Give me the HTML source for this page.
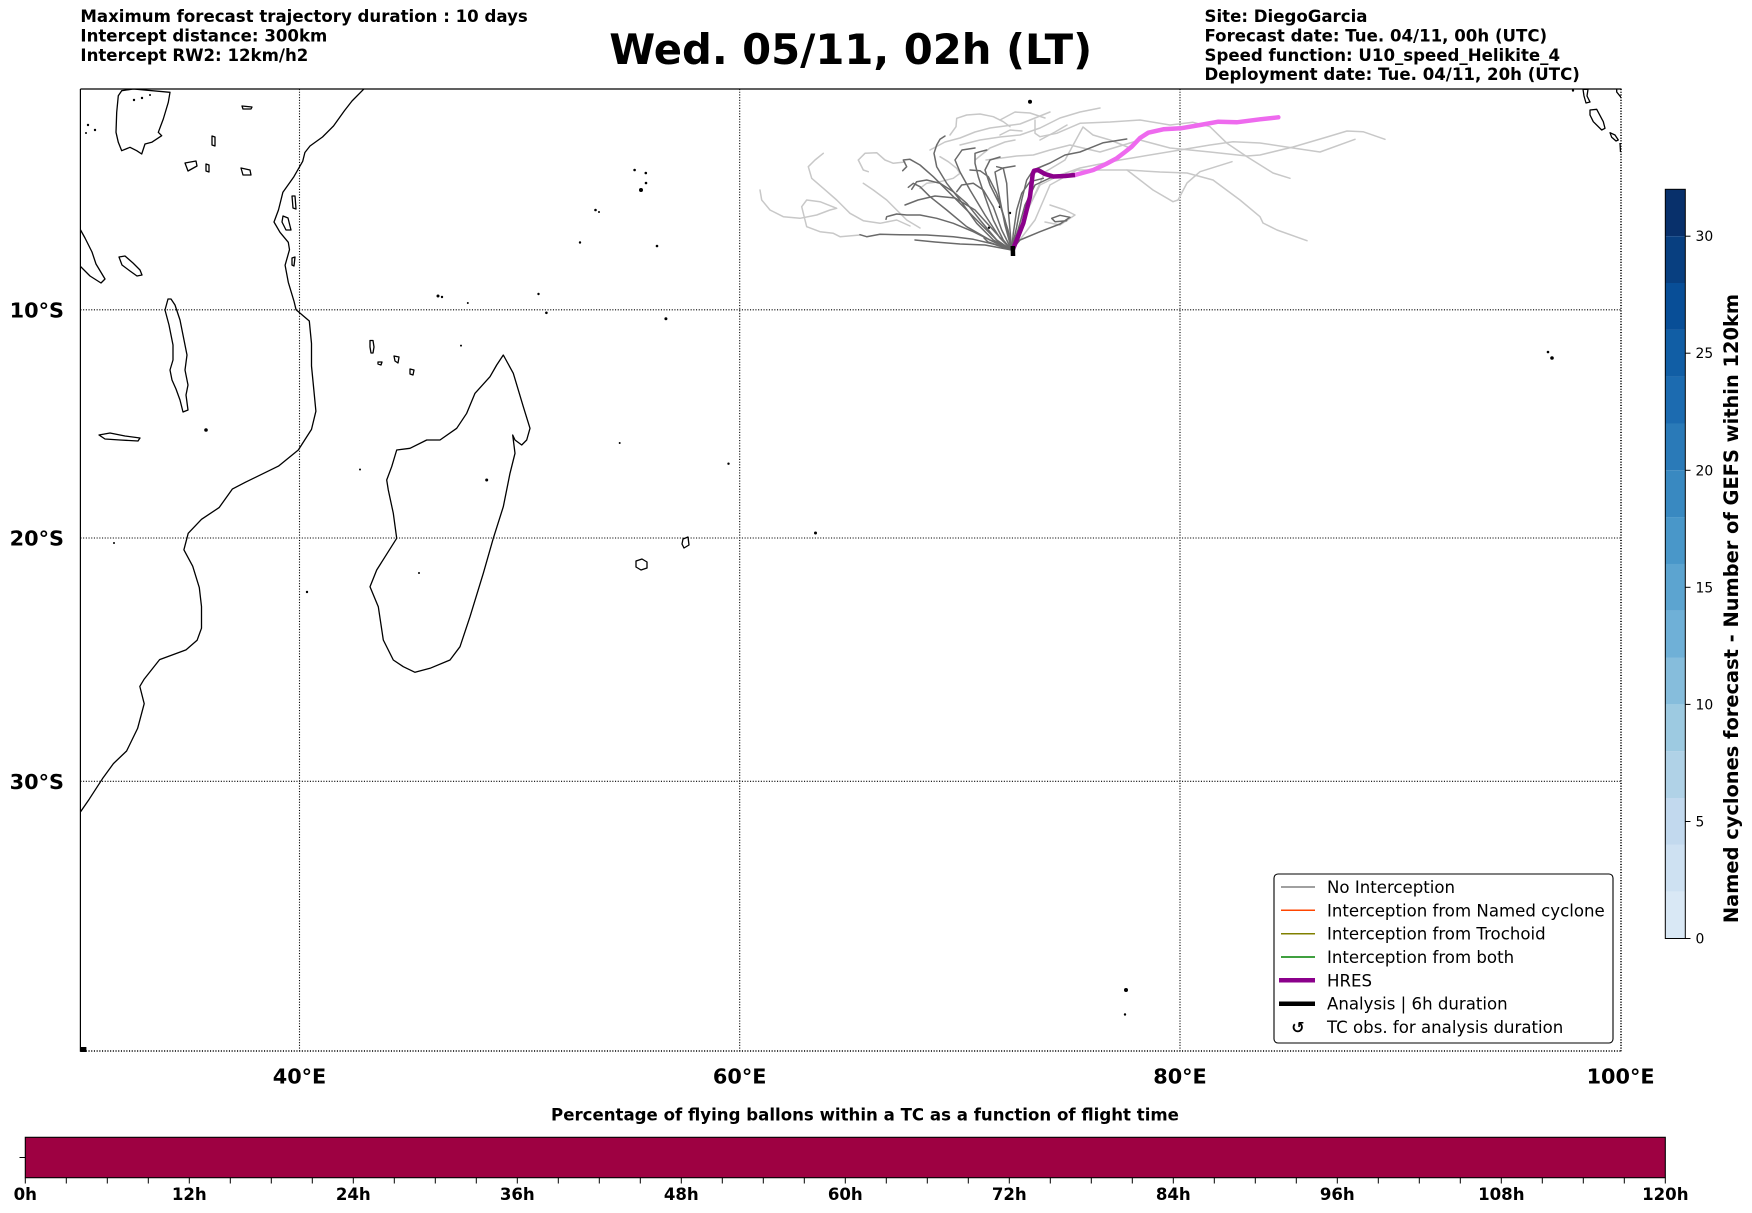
<!DOCTYPE html>
<html><head><meta charset="utf-8"><style>
html,body{margin:0;padding:0;background:#fff;}
svg{display:block;}
text{font-family:"DejaVu Sans","Liberation Sans",sans-serif;}
</style></head><body>
<svg width="1752" height="1213" viewBox="0 0 1752 1213" xmlns="http://www.w3.org/2000/svg">
<rect width="1752" height="1213" fill="#fff"/>

<!-- Header texts -->
<g font-weight="bold" font-size="16.6" fill="#000">
<text x="80.4" y="22">Maximum forecast trajectory duration : 10 days</text>
<text x="80.4" y="41.4">Intercept distance: 300km</text>
<text x="80.4" y="60.8">Intercept RW2: 12km/h2</text>
<text x="1204.5" y="22">Site: DiegoGarcia</text>
<text x="1204.5" y="41.4">Forecast date: Tue. 04/11, 00h (UTC)</text>
<text x="1204.5" y="60.8">Speed function: U10_speed_Helikite_4</text>
<text x="1204.5" y="80.2">Deployment date: Tue. 04/11, 20h (UTC)</text>
</g>
<text x="850.7" y="64" text-anchor="middle" font-weight="bold" font-size="41.7">Wed. 05/11, 02h (LT)</text>

<!-- Map -->
<defs><clipPath id="mc"><rect x="80.4" y="89" width="1540.6" height="962.7"/></clipPath></defs>
<g clip-path="url(#mc)" fill="none" stroke="#000" stroke-width="1.3" stroke-linejoin="round">
<polyline points="364.3,88.6 352,101 344.5,110.6 333.5,126 322.5,137 310,146 304.9,152.5 302.7,161.3 293.9,176.7 282.9,192.2 278.5,209.9 274,222 280,232.3 288.3,242.3 289.5,249.7 285.1,265.2 288.3,282.3 293.9,300.9 296.1,309.8 309.3,321 311.5,343.5 311.5,366 313.7,388.5 315.9,411.2 311.5,429.4 298.3,450 278.5,466.1 245.5,482.2 232.3,489.1 219.1,507.6 201.5,519.3 188.2,533.3 183.9,549.8 192.7,566.2 199.3,587.6 201.5,606.6 201.5,628.2 197.1,640.3 186,649.9 159.6,659.6 144.2,679.1 139.8,686.4 144.2,703.7 137.6,728.4 126.6,751 113.4,763.6 102.4,778.8 89.2,799.2 80.4,812"/>
<polygon points="503.3,355 513.3,373.3 523.3,406.7 530,428.3 526.7,440 521.7,445 515,440 512.7,435 515,453.3 510,473.3 503.3,506.7 493.3,538.3 483.3,573.3 470,616.7 460,646.7 450,660 430,668.3 415,672.3 403.3,666.7 393.3,660 383.3,640 378.3,606.7 370,586.7 376.7,570 396.7,538.3 393.3,513.3 388.3,490 386.7,480 391.7,466.7 396.7,450 410,448.3 426.7,440 440,440 456.7,428.3 466.7,413.3 475,393.3 490,376.7 496.7,365"/>
<polygon points="121.7,90.7 133.3,89 170,92.3 168.3,102.3 163.3,119 158.3,132.3 161.7,135.7 151.7,142.3 145,144 141.7,154 136.7,150.7 130,147.3 121.7,150.7 118.3,142.3 116,132.3 116.7,112.3 118.3,95.7"/>
<polygon points="80,229 85,238 92,252 96,264 105,279 101,283 90,276 80,266"/>
<polygon points="119,257 125,256 133,263 140,270 142,275 137,276 130,271 122,265"/>
<polygon points="168,299 165,310 169,325 173,345 173,360 170,370 172,380 176,389 180,400 183,412 188,410 186,395 188,385 185,370 187,355 184,340 180,320 175,305 171,299"/>
<polygon points="99,435 110,433 125,436 140,438 138,441 120,440 105,439"/>
<polygon points="185,163 196,161 197,166 188,171"/>
<polygon points="206,164 209,165 209,172 206,171"/>
<polygon points="242,106 252,107 251,109 243,109"/>
<polygon points="212,136 215,137 215,146 212,145"/>
<polygon points="241,168 250,170 251,175 243,175"/>
<polygon points="292,196 295,196 296,209 293,208"/>
<polygon points="283,216 288,218 291,230 286,230 282,222"/>
<polygon points="292,258 295,257 294,266 292,265"/>
<polygon points="370,340.5 373,340.5 374,347 373,353 371,353 370,347"/>
<polygon points="378,362 382,362 381,365 378,364"/>
<polygon points="394,356 399,357 398,363 395,361"/>
<polygon points="410,369 414,370 413,375 410,374"/>
<polygon points="636,561 642,559 647,562 647,568 641,570 636,567"/>
<polygon points="683,539 688,537 689,545 684,548 682,544"/>
<polygon points="1583,89.3 1588,89.3 1587,96 1590,102 1586,103 1584,96"/>
<polygon points="1590,110 1596.7,109.3 1603.3,121.7 1605,128.3 1601.7,130 1593.3,121.7 1590,115"/>
<polygon points="1610,132.7 1615,135 1618.3,140 1616,141 1611.7,137.3"/>
<polyline points="1616.7,89.3 1616.7,92 1621,97.3"/>
<polyline points="1620,143 1620.5,152"/>
</g>
<g fill="#000">
<circle cx="815.5" cy="533" r="1.5"/>
<circle cx="619.7" cy="443" r="1"/>
<circle cx="728.5" cy="463.7" r="1.2"/>
<circle cx="665.9" cy="318.7" r="1.5"/>
<circle cx="641" cy="190" r="2"/>
<circle cx="646" cy="183" r="1.3"/>
<circle cx="634.6" cy="170" r="1.3"/>
<circle cx="645.8" cy="173" r="1.3"/>
<circle cx="595.5" cy="210" r="1.3"/>
<circle cx="599" cy="212" r="1"/>
<circle cx="580" cy="242.5" r="1.2"/>
<circle cx="657" cy="246" r="1.3"/>
<circle cx="538.5" cy="294" r="1.2"/>
<circle cx="546.4" cy="312.8" r="1.3"/>
<circle cx="438" cy="296" r="1.5"/>
<circle cx="442" cy="297" r="1.2"/>
<circle cx="467.8" cy="303" r="1"/>
<circle cx="461" cy="345.6" r="1"/>
<circle cx="360" cy="469.5" r="1"/>
<circle cx="307" cy="592" r="1.2"/>
<circle cx="486.7" cy="480" r="1.5"/>
<circle cx="419" cy="573" r="1"/>
<circle cx="1126" cy="990" r="2"/>
<circle cx="1125" cy="1014.5" r="1.2"/>
<circle cx="1548" cy="352" r="1.3"/>
<circle cx="1552" cy="358" r="1.8"/>
<circle cx="1030" cy="101.7" r="2"/>
<circle cx="1000" cy="206.7" r="1.3"/>
<circle cx="989" cy="227.7" r="1.2"/>
<circle cx="1010" cy="213" r="1.2"/>
<circle cx="1573" cy="90.5" r="1.2"/>
<circle cx="134" cy="100" r="1.2"/><circle cx="142" cy="98" r="1.2"/><circle cx="150" cy="95" r="1"/>
<circle cx="88" cy="125" r="1.2"/><circle cx="95" cy="130" r="1.2"/><circle cx="86" cy="133" r="1"/>
<circle cx="114" cy="543" r="1"/><circle cx="206" cy="430" r="1.8"/>
<rect x="80.4" y="1047" width="6" height="5"/>
</g>

<!-- Gridlines -->
<g stroke="#000" stroke-width="1.1" stroke-dasharray="1.1 1.6" fill="none">
<line x1="299.5" y1="89" x2="299.5" y2="1051.7"/>
<line x1="739.7" y1="89" x2="739.7" y2="1051.7"/>
<line x1="1180" y1="89" x2="1180" y2="1051.7"/>
<line x1="80.4" y1="309.8" x2="1621" y2="309.8"/>
<line x1="80.4" y1="538" x2="1621" y2="538"/>
<line x1="80.4" y1="781.3" x2="1621" y2="781.3"/>
<line x1="80.4" y1="1051" x2="1621" y2="1051" stroke-width="1.6"/>
<line x1="1621" y1="89" x2="1621" y2="1051.7" stroke-width="1.6"/>
</g>
<g stroke="#000" stroke-width="1.2" fill="none">
<line x1="80.4" y1="89" x2="1621.5" y2="89"/>
<line x1="80.4" y1="89" x2="80.4" y2="1051.7"/>
</g>

<!-- Trajectories: light grey -->
<g fill="none" stroke="#c8c8c8" stroke-width="1.5" stroke-linejoin="round" stroke-linecap="round">
<polyline points="760,190 761.7,200 770,210 783.3,216.7 800,218.3 816.7,215 830,210 836.7,208.3 820,201.7 806.7,200 801.7,206.7 805,220 806.7,226.7 820,231.7 833.3,233.3 840,236.7 860,235"/>
<polyline points="823.3,153.3 815,160 808.3,166.7 811.7,178.3 823.3,188.3 836.7,200 850,213.3 863.3,220.7 880,223.3 896.7,220 910,226"/>
<polyline points="858.3,160 865,153.3 876.7,152.7 885,160 893.3,163.3 905,162"/>
<polyline points="858.3,160 863.3,170 868.3,171.7"/>
<polyline points="863.3,183.3 873.3,190 886.7,200 896.7,210 906.7,220 920,228"/>
<polyline points="950,135 956,126.7 956.7,118.3 966.7,115 980,114 993.3,116.7 1003.3,121.7 1010,126.7"/>
<polyline points="940,156.7 948.3,161.7 956.7,168.3 960,173.3 953.3,178.3 940,181.7 926.7,183.3 920,188.3"/>
<polyline points="1035,120 1035,133.3 1040,136.7 1056.7,133.3 1080,123.3 1110,122 1140,120 1170,125 1193,122.3 1210,126.7 1227,143.3 1247,156.7 1273,173 1290,178.3"/>
<polyline points="986,160 1000,158.3 1016.7,156 1033.3,155 1050,150 1070,145 1100,152 1140,140 1170,148 1210,152 1247,156 1260,155 1293,147 1327,137 1347,131 1363,131.7 1385,139.3"/>
<polyline points="1012,250 1025,215 1040,185 1060,175 1080,168 1120,160 1180,150 1210,145 1233,141.7 1260,143 1293,148 1320,152 1355,139.3"/>
<polyline points="1012,250 1035,220 1050,185 1077,170 1100,170 1127,170 1160,172 1187,173 1213,180 1240,200 1260,216.7 1263,223 1277,230 1307,240.7"/>
<polyline points="1127,170 1140,180 1153,190 1173,201.7 1178,200 1187,183 1200,171.7 1232,161.7"/>
<polyline points="1012,250 1030,205 1045,172 1065,160 1083,127 1093,135 1110,140 1130,148"/>
<polyline points="1050,205 1065,210 1075,215 1060,225 1045,222"/>
<polyline points="975,160 990,148 1005,142 1015,140"/>
<polyline points="1000,135 1010,130 1022,131"/>
<polyline points="1040,140 1055,132 1067,125"/>
<polyline points="930,150 945,142 960,138 975,132 990,128 1005,126 1020,124 1035,118 1050,112"/>
<polyline points="960,145 980,140 1000,137 1020,135 1040,128 1060,118 1080,112 1100,108"/>
<polyline points="1000,120 1015,112 1030,113 1045,118"/>
</g>
<!-- Trajectories: dark grey -->
<g fill="none" stroke="#6a6a6a" stroke-width="1.5" stroke-linejoin="round" stroke-linecap="round">
<polyline points="1011.7,250 993.3,244 973.3,239.3 953.3,236.7 926.7,235 900,234.7 880,234.3 866.7,236.7 860,234.7"/>
<polyline points="1011.7,250 993.3,241.7 973.3,231.7 953.3,223.3 936.7,218.3 920,215 906.7,215 896.7,214 886.7,216.7 886,219.3"/>
<polyline points="902.7,170.7 906.7,166.7 903.3,160 910,159.3 920,165 933.3,176.7 950,193.3 966.7,210 983.3,226.7 1000,243.3 1011.7,250"/>
<polyline points="911.7,189.3 916.7,181.7 926.7,180 940,183.3 953.3,191.7 966.7,203.3 980,220 996.7,240 1011.7,250"/>
<polyline points="945,136 940,139.3 936.7,145 934,153.3 936.7,166.7 946.7,183.3 960,200 976.7,223.3 993.3,240 1011.7,250"/>
<polyline points="986.7,150 980,151.7 975,153.3 975,163.3 978.3,176.7 985,196.7 993.3,220 1003.3,240 1011.7,250"/>
<polyline points="956.7,191.7 961.7,185 973.3,183.3 983.3,190 993.3,206.7 1001.7,230 1011.7,250"/>
<polyline points="970,170 980,170.7 988.3,176.7 996.7,193.3 1005,220 1011.7,250"/>
<polyline points="996.7,166.7 1003.3,168.3 1006.7,183.3 1008.3,210 1011.7,250"/>
<polyline points="1011.7,250 1020,240 1040,231.7 1060,224 1070,217.3 1060,215.3 1051.7,218.3 1055,221.7 1066.7,220.7"/>
<polyline points="1011.7,250 1016.7,226.7 1021.7,200 1026.7,180 1033.3,170 1050,163 1065,155 1080,152 1093.3,146.7 1103.3,142.7 1126.7,139"/>
<polyline points="1011.7,250 1013.3,233.3 1016.7,210 1021.7,193.3 1030,181.7 1043.3,178.3"/>
<polyline points="1011.7,250 990,240 966.7,226.7 946.7,210 930,196.7 920,186.7 913.3,183.3 908.3,187.3"/>
<polyline points="1011.7,250 1000,246 988,242 984,238"/>
<polyline points="1011.7,250 1005,225 1000,200 995,172 1003,168 1015,166"/>
<polyline points="1011.7,250 1000,238 985,215 970,190 960,172 955,160 962,150 975,148"/>
<polyline points="1011.7,250 995,232 975,210 955,198 935,196 918,200 905,205"/>
<polyline points="1011.7,250 1008,230 1000,205 990,185 985,170 990,160 1000,157"/>
<polyline points="1011.7,250 1018,230 1025,205 1035,185 1050,178 1070,176"/>
<polyline points="1011.7,250 985,245 960,244 935,242 915,240"/>
</g>
<!-- HRES -->
<polyline fill="none" stroke="#ee6aee" stroke-width="4.5" stroke-linejoin="round" stroke-linecap="round" points="1075,175 1093.3,170 1106,164 1116.7,158.3 1125,152 1131.7,146.7 1140,138 1148.3,132.7 1163.3,129.3 1180.7,128.3 1200,125 1218.3,121.7 1236.7,122.3 1260,119.3 1278.3,117.3"/>
<polyline fill="none" stroke="#8b008b" stroke-width="4.5" stroke-linejoin="round" points="1012.7,250 1016.7,240 1023.3,223.3 1030,196.7 1032.7,174 1034,170.7 1038,170 1045,174 1053.3,176.5 1065,176 1075,175"/>
<line x1="1012.8" y1="246" x2="1013" y2="256" stroke="#000" stroke-width="4.5"/>

<!-- Axis tick labels -->
<g font-weight="bold" font-size="20.8" fill="#000">
<text x="299.5" y="1083.3" text-anchor="middle">40°E</text>
<text x="739.7" y="1083.3" text-anchor="middle">60°E</text>
<text x="1180" y="1083.3" text-anchor="middle">80°E</text>
<text x="1620.6" y="1083.3" text-anchor="middle">100°E</text>
<text x="64" y="317.3" text-anchor="end">10°S</text>
<text x="64" y="545.5" text-anchor="end">20°S</text>
<text x="64" y="788.8" text-anchor="end">30°S</text>
</g>

<!-- Legend -->
<rect x="1274" y="874" width="339" height="169" rx="4" ry="4" fill="#fff" stroke="#000" stroke-width="1.1"/>
<g stroke-width="1.5">
<line x1="1281" y1="887" x2="1315" y2="887" stroke="#808080"/>
<line x1="1281" y1="910.3" x2="1315" y2="910.3" stroke="#ff4500"/>
<line x1="1281" y1="933.7" x2="1315" y2="933.7" stroke="#808000"/>
<line x1="1281" y1="957" x2="1315" y2="957" stroke="#008000"/>
<line x1="1279" y1="980.3" x2="1315" y2="980.3" stroke="#8b008b" stroke-width="4.5"/>
<line x1="1279" y1="1003.7" x2="1315" y2="1003.7" stroke="#000" stroke-width="4.5"/>
</g>
<g font-size="16.6" fill="#000">
<text x="1327" y="893">No Interception</text>
<text x="1327" y="916.3">Interception from Named cyclone</text>
<text x="1327" y="939.7">Interception from Trochoid</text>
<text x="1327" y="963">Interception from both</text>
<text x="1327" y="986.3">HRES</text>
<text x="1327" y="1009.7">Analysis | 6h duration</text>
<text x="1327" y="1033">TC obs. for analysis duration</text>
<text x="1298" y="1033" text-anchor="middle" font-weight="bold" font-size="16">↺</text>
</g>

<!-- Right colorbar -->
<g>
<rect x="1665.3" y="189.3" width="20" height="46.9" fill="#08306b"/>
<rect x="1665.3" y="236.2" width="20" height="46.9" fill="#083f80"/>
<rect x="1665.3" y="283" width="20" height="46.9" fill="#084e97"/>
<rect x="1665.3" y="329.8" width="20" height="46.9" fill="#115ea5"/>
<rect x="1665.3" y="376.6" width="20" height="46.9" fill="#1c6bb0"/>
<rect x="1665.3" y="423.4" width="20" height="46.9" fill="#2a7ab8"/>
<rect x="1665.3" y="470.3" width="20" height="46.9" fill="#3989c1"/>
<rect x="1665.3" y="517.1" width="20" height="46.9" fill="#4997c9"/>
<rect x="1665.3" y="563.9" width="20" height="46.9" fill="#5ca4d0"/>
<rect x="1665.3" y="610.7" width="20" height="46.9" fill="#6fb0d7"/>
<rect x="1665.3" y="657.5" width="20" height="46.9" fill="#86bddc"/>
<rect x="1665.3" y="704.4" width="20" height="46.9" fill="#9dcae1"/>
<rect x="1665.3" y="751.2" width="20" height="46.9" fill="#b0d2e7"/>
<rect x="1665.3" y="798" width="20" height="46.9" fill="#c2d9ee"/>
<rect x="1665.3" y="844.8" width="20" height="46.9" fill="#cee1f2"/>
<rect x="1665.3" y="891.6" width="20" height="46.9" fill="#d9e8f5"/>
<rect x="1665.3" y="189.3" width="20" height="749.2" fill="none" stroke="#000" stroke-width="1"/>
</g>
<g stroke="#000" stroke-width="1">
<line x1="1685.3" y1="938.5" x2="1690.5" y2="938.5"/>
<line x1="1685.3" y1="821.5" x2="1690.5" y2="821.5"/>
<line x1="1685.3" y1="704.4" x2="1690.5" y2="704.4"/>
<line x1="1685.3" y1="587.3" x2="1690.5" y2="587.3"/>
<line x1="1685.3" y1="470.3" x2="1690.5" y2="470.3"/>
<line x1="1685.3" y1="353.2" x2="1690.5" y2="353.2"/>
<line x1="1685.3" y1="236.2" x2="1690.5" y2="236.2"/>
</g>
<g font-size="13.9" fill="#000">
<text x="1695.5" y="943.5">0</text>
<text x="1695.5" y="826.5">5</text>
<text x="1695.5" y="709.4">10</text>
<text x="1695.5" y="592.3">15</text>
<text x="1695.5" y="475.3">20</text>
<text x="1695.5" y="358.2">25</text>
<text x="1695.5" y="241.2">30</text>
</g>
<text transform="translate(1738,608.5) rotate(-90)" text-anchor="middle" font-weight="bold" font-size="19.4">Named cyclones forecast - Number of GEFS within 120km</text>

<!-- Bottom colorbar -->
<text x="865" y="1120.5" text-anchor="middle" font-weight="bold" font-size="16.6">Percentage of flying ballons within a TC as a function of flight time</text>
<rect x="25.3" y="1137.3" width="1640" height="40.4" fill="#9e0142" stroke="#000" stroke-width="1.1"/>
<line x1="19.5" y1="1157.5" x2="25.3" y2="1157.5" stroke="#000" stroke-width="1"/>
<g stroke="#000" stroke-width="1">
<line x1="25.3" y1="1177.7" x2="25.3" y2="1183.5"/><line x1="66.3" y1="1177.7" x2="66.3" y2="1183.5"/><line x1="107.3" y1="1177.7" x2="107.3" y2="1183.5"/><line x1="148.3" y1="1177.7" x2="148.3" y2="1183.5"/>
<line x1="189.3" y1="1177.7" x2="189.3" y2="1183.5"/><line x1="230.3" y1="1177.7" x2="230.3" y2="1183.5"/><line x1="271.3" y1="1177.7" x2="271.3" y2="1183.5"/><line x1="312.3" y1="1177.7" x2="312.3" y2="1183.5"/>
<line x1="353.3" y1="1177.7" x2="353.3" y2="1183.5"/><line x1="394.3" y1="1177.7" x2="394.3" y2="1183.5"/><line x1="435.3" y1="1177.7" x2="435.3" y2="1183.5"/><line x1="476.3" y1="1177.7" x2="476.3" y2="1183.5"/>
<line x1="517.3" y1="1177.7" x2="517.3" y2="1183.5"/><line x1="558.3" y1="1177.7" x2="558.3" y2="1183.5"/><line x1="599.3" y1="1177.7" x2="599.3" y2="1183.5"/><line x1="640.3" y1="1177.7" x2="640.3" y2="1183.5"/>
<line x1="681.3" y1="1177.7" x2="681.3" y2="1183.5"/><line x1="722.3" y1="1177.7" x2="722.3" y2="1183.5"/><line x1="763.3" y1="1177.7" x2="763.3" y2="1183.5"/><line x1="804.3" y1="1177.7" x2="804.3" y2="1183.5"/>
<line x1="845.3" y1="1177.7" x2="845.3" y2="1183.5"/><line x1="886.3" y1="1177.7" x2="886.3" y2="1183.5"/><line x1="927.3" y1="1177.7" x2="927.3" y2="1183.5"/><line x1="968.3" y1="1177.7" x2="968.3" y2="1183.5"/>
<line x1="1009.3" y1="1177.7" x2="1009.3" y2="1183.5"/><line x1="1050.3" y1="1177.7" x2="1050.3" y2="1183.5"/><line x1="1091.3" y1="1177.7" x2="1091.3" y2="1183.5"/><line x1="1132.3" y1="1177.7" x2="1132.3" y2="1183.5"/>
<line x1="1173.3" y1="1177.7" x2="1173.3" y2="1183.5"/><line x1="1214.3" y1="1177.7" x2="1214.3" y2="1183.5"/><line x1="1255.3" y1="1177.7" x2="1255.3" y2="1183.5"/><line x1="1296.3" y1="1177.7" x2="1296.3" y2="1183.5"/>
<line x1="1337.3" y1="1177.7" x2="1337.3" y2="1183.5"/><line x1="1378.3" y1="1177.7" x2="1378.3" y2="1183.5"/><line x1="1419.3" y1="1177.7" x2="1419.3" y2="1183.5"/><line x1="1460.3" y1="1177.7" x2="1460.3" y2="1183.5"/>
<line x1="1501.3" y1="1177.7" x2="1501.3" y2="1183.5"/><line x1="1542.3" y1="1177.7" x2="1542.3" y2="1183.5"/><line x1="1583.3" y1="1177.7" x2="1583.3" y2="1183.5"/><line x1="1624.3" y1="1177.7" x2="1624.3" y2="1183.5"/>
<line x1="1665.3" y1="1177.7" x2="1665.3" y2="1183.5"/>
</g>
<g font-weight="bold" font-size="16.6" fill="#000" text-anchor="middle">
<text x="25.3" y="1200">0h</text>
<text x="189.3" y="1200">12h</text>
<text x="353.3" y="1200">24h</text>
<text x="517.3" y="1200">36h</text>
<text x="681.3" y="1200">48h</text>
<text x="845.3" y="1200">60h</text>
<text x="1009.3" y="1200">72h</text>
<text x="1173.3" y="1200">84h</text>
<text x="1337.3" y="1200">96h</text>
<text x="1501.3" y="1200">108h</text>
<text x="1665.3" y="1200">120h</text>
</g>
</svg>
</body></html>
